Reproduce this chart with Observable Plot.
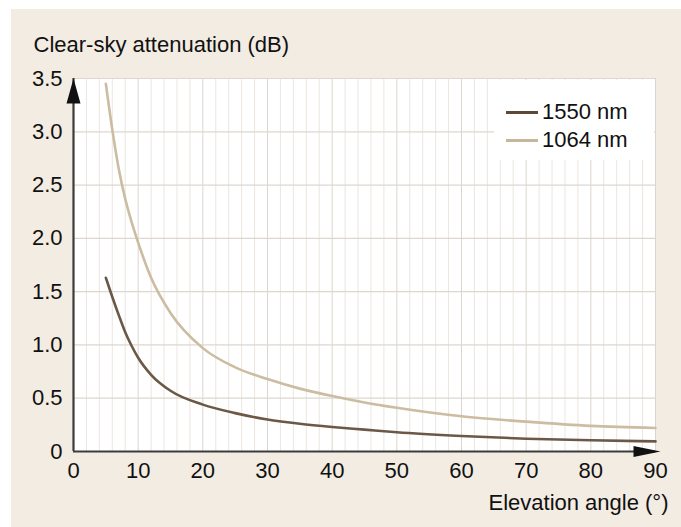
<!DOCTYPE html>
<html><head><meta charset="utf-8">
<script src="https://cdn.jsdelivr.net/npm/d3@7"></script>
<script src="https://cdn.jsdelivr.net/npm/@observablehq/plot@0.6"></script>
<style>
body{margin:0;background:#fff;}
#wrap{position:relative;width:681px;height:527px;overflow:hidden;font-family:"Liberation Sans",Arial,sans-serif;}
#panel{position:absolute;left:11px;top:9px;right:0;bottom:0;background:#f3ece2;}
#chart{position:absolute;left:0;top:0;}
#legend{position:absolute;left:494px;top:80px;width:160px;height:80px;background:#fff;}
.row{position:absolute;left:12px;height:28px;display:flex;align-items:center;font-size:22px;color:#111;}
.sw{width:32px;height:3px;margin-right:4px;}
</style></head>
<body>
<div id="wrap"><div id="panel"></div><div id="chart"></div><div id="legend"></div></div>
<script>
const series = ["1550 nm", "1064 nm"];
const seriesColors = ["#6b5847", "#cbbca2"];
const elevation = [5, 6, 7, 8, 9, 10, 12, 15, 20, 25, 30, 35, 40, 45, 50, 60, 70, 80, 90];
const att1550 = [1.63, 1.45, 1.28, 1.12, 0.99, 0.88, 0.72, 0.57, 0.44, 0.36, 0.30, 0.26, 0.23, 0.205, 0.18, 0.145, 0.12, 0.105, 0.095];
const att1064 = [3.45, 3.02, 2.65, 2.37, 2.15, 1.96, 1.63, 1.30, 0.97, 0.79, 0.68, 0.59, 0.52, 0.46, 0.41, 0.33, 0.28, 0.24, 0.22];
const xTicks = [0, 10, 20, 30, 40, 50, 60, 70, 80, 90];
const yTicks = [0, 0.5, 1.0, 1.5, 2.0, 2.5, 3.0, 3.5];
const xMinorGrid = [2, 4, 6, 8, 12, 14, 16, 18, 22, 24, 26, 28, 32, 34, 36, 38, 42, 44, 46, 48, 52, 54, 56, 58, 62, 64, 66, 68, 72, 74, 76, 78, 82, 84, 86, 88];
const yTitle = "Clear-sky attenuation (dB)";
const xTitle = "Elevation angle (°)";

const data = [];
elevation.forEach((e, i) => {
  data.push({e, v: att1550[i], s: series[0]});
  data.push({e, v: att1064[i], s: series[1]});
});

const arrowUp = {draw(ctx) { ctx.moveTo(0, 0); ctx.lineTo(7, 25); ctx.lineTo(-7, 25); ctx.closePath(); }};
const arrowRight = {draw(ctx) { ctx.moveTo(5, 0); ctx.lineTo(-22, -5.5); ctx.lineTo(-22, 5.5); ctx.closePath(); }};

const plot = Plot.plot({
  width: 681, height: 527,
  marginLeft: 73, marginRight: 26, marginTop: 78, marginBottom: 76,
  style: {background: "transparent", fontFamily: "'Liberation Sans', Arial, sans-serif", fontSize: "22px", color: "#111"},
  x: {domain: [0, 90]},
  y: {domain: [0, 3.5]},
  color: {domain: series, range: seriesColors},
  marks: [
    Plot.frame({fill: "white", stroke: "none"}),
    Plot.ruleX(xMinorGrid, {stroke: "#ebe6e0", strokeWidth: 1}),
    Plot.ruleX(xTicks.slice(1), {stroke: "#dbd5ce", strokeWidth: 1}),
    Plot.ruleY(yTicks.slice(1), {stroke: "#ddd7d0", strokeWidth: 1.2}),
    Plot.line(data, {x: "e", y: "v", z: "s", stroke: "s", strokeWidth: 2.6, curve: "monotone-x"}),
    Plot.ruleX([0], {stroke: "#3c3c3c", strokeWidth: 2.2}),
    Plot.ruleY([0], {stroke: "#3c3c3c", strokeWidth: 2.2}),
    Plot.dot([{x: 0, y: 3.5}], {x: "x", y: "y", symbol: arrowUp, fill: "#111", stroke: "none"}),
    Plot.dot([{x: 90, y: 0}], {x: "x", y: "y", symbol: arrowRight, fill: "#111", stroke: "none"}),
    Plot.axisX({ticks: xTicks, tickSize: 0, tickPadding: 11, label: null, tickFormat: d => String(d)}),
    Plot.axisY({ticks: yTicks, tickSize: 0, tickPadding: 11, label: null, tickFormat: d => d === 0 ? "0" : d.toFixed(1)}),
    Plot.text([yTitle], {frameAnchor: "top-left", textAnchor: "start", lineAnchor: "middle", dx: -40, dy: -34, fontSize: 22, fill: "#111"}),
    Plot.text([xTitle], {frameAnchor: "bottom-right", textAnchor: "end", lineAnchor: "middle", dx: 13, dy: 51, fontSize: 22, fill: "#111"})
  ]
});
document.getElementById("chart").appendChild(plot);

const legend = document.getElementById("legend");
series.forEach((s, i) => {
  const row = document.createElement("div");
  row.className = "row";
  row.style.top = (18 + i * 28) + "px";
  const sw = document.createElement("div");
  sw.className = "sw";
  sw.style.background = i === 0 ? "#5c4a36" : "#c6b79c";
  const t = document.createElement("span");
  t.textContent = s;
  row.appendChild(sw);
  row.appendChild(t);
  legend.appendChild(row);
});
</script>
</body></html>
